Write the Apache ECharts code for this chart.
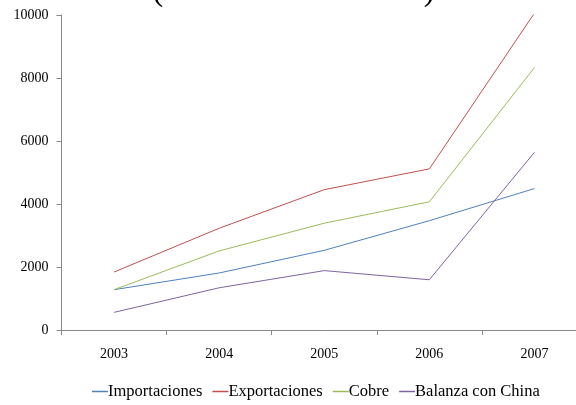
<!DOCTYPE html>
<html><head><meta charset="utf-8">
<script src="https://cdn.jsdelivr.net/npm/echarts@6/dist/echarts.min.js"></script>
<style>html,body{margin:0;padding:0;background:#fff;overflow:hidden;width:576px;height:405px}#c{width:587px;height:405px}</style>
</head><body><div id="c"></div>
<script>
const categories = ['2003','2004','2005','2006','2007'];
const importaciones = [1280, 1810, 2530, 3470, 4490];
const exportaciones = [1840, 3230, 4455, 5115, 10060];
const cobre = [1280, 2510, 3390, 4070, 8330];
const balanza = [560, 1340, 1885, 1595, 5640];
const yTicks = [0, 2000, 4000, 6000, 8000, 10000];
const titleText = '(Millones de dólares)';

const font = 'Liberation Serif';
const chart = echarts.init(document.getElementById('c'), null, {renderer: 'canvas'});
const mk = (name, data, color) => ({
  name, type: 'line', data, symbol: 'none', smooth: false,
  lineStyle: {width: 1, color}, itemStyle: {color}
});
chart.setOption({
  animation: false,
  backgroundColor: '#fff',
  title: {text: titleText, left: 'center', top: -30,
    textStyle: {fontFamily: font, fontSize: 33, fontWeight: 'normal', color: '#000'}},
  grid: {left: 61.5, right: 0, top: 15, bottom: 75},
  legend: {
    top: 378, left: 87, itemWidth: 16, itemHeight: 1.5, itemGap: 10,
    icon: 'rect',
    textStyle: {fontFamily: font, fontSize: 16.5, color: '#000', padding: [0,0,0,-5]},
    data: ['Importaciones','Exportaciones','Cobre','Balanza con China']
  },
  xAxis: {
    type: 'category', data: categories, boundaryGap: true,
    axisLine: {lineStyle: {color: '#888', width: 1}},
    axisTick: {show: true, length: 5, lineStyle: {color: '#888'}},
    axisLabel: {fontFamily: font, fontSize: 14, color: '#000', margin: 17}
  },
  yAxis: {
    type: 'value', min: yTicks[0], max: yTicks[yTicks.length-1], interval: 2000,
    axisLine: {show: true, lineStyle: {color: '#888', width: 1}},
    axisTick: {show: true, length: 5, lineStyle: {color: '#888'}},
    axisLabel: {fontFamily: font, fontSize: 14, color: '#000', margin: 13,
      formatter: v => String(v)},
    splitLine: {show: false}
  },
  series: [
    mk('Importaciones', importaciones, '#4F81BD'),
    mk('Exportaciones', exportaciones, '#C0504D'),
    mk('Cobre', cobre, '#9BBB59'),
    mk('Balanza con China', balanza, '#8064A2')
  ]
});
</script></body></html>
